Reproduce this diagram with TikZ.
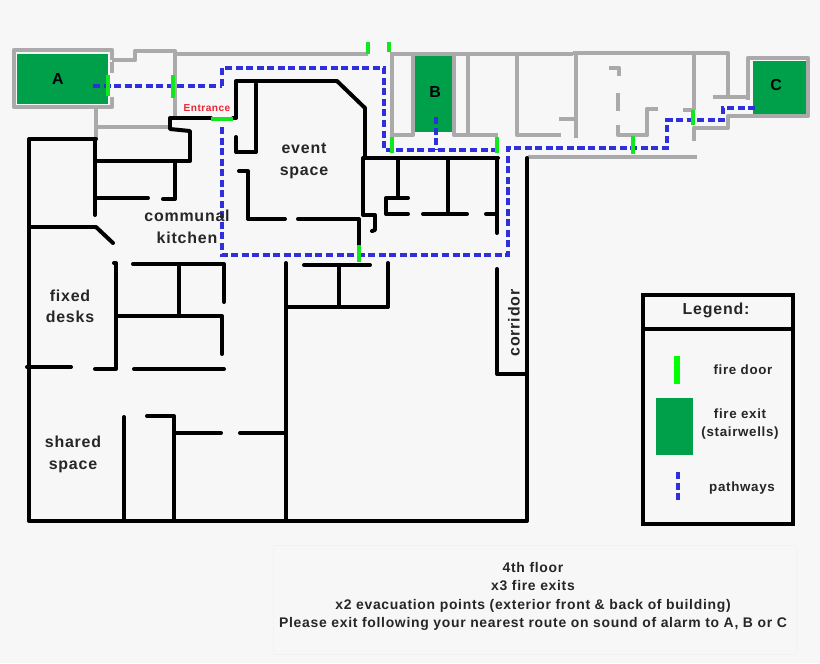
\documentclass[tikz,border=0pt]{standalone}
\usepackage{fontspec}
\setmainfont{Liberation Sans}[LetterSpace=5]
\usepackage{tikz}

\definecolor{paper}{HTML}{F7F7F7}
\definecolor{wallgrey}{HTML}{AAAAAA}
\definecolor{doorgreen}{HTML}{12E61E}
\definecolor{exitgreen}{HTML}{00A04B}
\definecolor{routeblue}{HTML}{2F2FDD}
\definecolor{signred}{HTML}{EE2233}

\tikzset{
	wall/.style={line width=3.4pt,black,line cap=round,line join=round},
	oldwall/.style={line width=3.6pt,wallgrey,line join=round},
	firedoor/.style={line width=3.8pt,doorgreen},
	pathway/.style={line width=3.2pt,routeblue,dash pattern=on 6pt off 3pt},
	stairwell/.style={fill=exitgreen},
	roomlabel/.style={font=\bfseries\fontsize{13.6}{18.4}\selectfont,align=center,text=black!85},
	legendlabel/.style={font=\bfseries\fontsize{11.4}{14.6}\selectfont,align=center,text=black!85},
	infolabel/.style={font=\bfseries\fontsize{11.9}{15.8}\selectfont,align=center,text=black!85}
}

\begin{document}
\begin{tikzpicture}[x=0.03cm,y=-0.03cm]
	\useasboundingbox[fill=paper] (0,0) rectangle (820,663);

	% stairwells
	\fill[stairwell] (17,54) rectangle (108,104);
	\fill[stairwell] (415,56) rectangle (452,132);
	\fill[stairwell] (753,61) rectangle (806,114);

	% grey walls, top left
	\draw[oldwall] (112,60) -- (112,50) -- (14,50) -- (14,107) -- (112,107) -- (112,97);
	\draw[oldwall] (112,62) -- (112,73);
	\draw[oldwall] (112,60) -- (135,60) -- (135,51) -- (175,51) -- (175,118);
	\draw[oldwall] (175,54) -- (368,54);
	\draw[oldwall] (96,108) -- (96,139);
	\draw[oldwall] (95,127) -- (168,127);

	% grey walls, top right
	\draw[oldwall] (390,54) -- (573,54);
	\draw[oldwall] (573,53) -- (728,53) -- (728,97);
	\draw[oldwall] (392,54) -- (392,137);
	\draw[oldwall] (392,135) -- (413,135) -- (413,54);
	\draw[oldwall] (454,54) -- (454,135) -- (498,135);
	\draw[oldwall] (468,54) -- (468,135);
	\draw[oldwall] (561,135) -- (517,135) -- (517,54);
	\draw[oldwall] (576,54) -- (576,138);
	\draw[oldwall] (559,119) -- (576,119);
	\draw[oldwall] (609,68) -- (619,68) -- (619,76);
	\draw[oldwall] (618,93) -- (618,111);
	\draw[oldwall] (618,125) -- (618,135) -- (647,135) -- (647,109) -- (658,109);
	\draw[oldwall] (694,54) -- (694,110);
	\draw[oldwall] (683,110) -- (694,110);
	\draw[oldwall] (694,141) -- (694,128) -- (728,128) -- (728,116) -- (808,116) -- (808,58) -- (748,58) -- (748,100);
	\draw[oldwall] (713,97) -- (748,97);
	\draw[oldwall] (528,157) -- (697,157);

	% black walls, outside
	\draw[wall] (96,139) -- (29,139) -- (29,521) -- (527,521) -- (527,158);
	\draw[wall] (497,269) -- (497,374) -- (527,374);

	% kitchen and entrance
	\draw[wall] (95,139) -- (95,215);
	\draw[wall] (95,161) -- (190,161) -- (190,131) -- (170,129) -- (170,118) -- (211,118);
	\draw[wall] (175,161) -- (175,199) -- (163,199);
	\draw[wall] (95,198) -- (148,198);
	\draw[wall] (29,227) -- (96,227) -- (113,243);

	% event space
	\draw[wall] (233,118) -- (236,118) -- (236,81) -- (337,81) -- (365,108) -- (365,158);
	\draw[wall] (256,84) -- (256,152) -- (236,152) -- (236,137);
	\draw[wall] (239,171) -- (248,171) -- (248,219) -- (285,219);
	\draw[wall] (298,219) -- (359,219) -- (359,245);

	% rooms right of event space
	\draw[wall] (365,158) -- (498,158);
	\draw[wall] (363,158) -- (363,215) -- (375,215) -- (375,230) -- (372,231);
	\draw[wall] (398,158) -- (398,197);
	\draw[wall] (408,198) -- (386,198) -- (386,214) -- (408,214);
	\draw[wall] (423,214) -- (467,214);
	\draw[wall] (448,158) -- (448,214);
	\draw[wall] (486,214) -- (497,214);
	\draw[wall] (497,158) -- (497,233);

	% fixed desks
	\draw[wall] (114,263) -- (116,263) -- (116,369) -- (95,369);
	\draw[wall] (27,367) -- (71,367);
	\draw[wall] (134,369) -- (224,369);
	\draw[wall] (133,264) -- (224,264) -- (224,302);
	\draw[wall] (179,264) -- (179,316);
	\draw[wall] (116,316) -- (222,316) -- (222,354);

	% shared space
	\draw[wall] (124,417) -- (124,521);
	\draw[wall] (147,416) -- (174,416) -- (174,521);
	\draw[wall] (174,433) -- (221,433);
	\draw[wall] (240,433) -- (286,433);
	\draw[wall] (286,263) -- (286,521);
	\draw[wall] (304,265) -- (370,265);
	\draw[wall] (339,265) -- (339,307);
	\draw[wall] (286,307) -- (388,307) -- (388,263);

	% pathways
	\draw[pathway] (93,86) -- (222,86);
	\draw[pathway] (222,127) -- (222,255) -- (508,255) -- (508,148) -- (667,148) -- (667,120) -- (723,120) -- (723,108) -- (755,108);
	\draw[pathway] (222,86) -- (222,68) -- (384,68) -- (384,150) -- (500,150);
	\draw[pathway] (436,117) -- (436,150);

	% fire doors
	\draw[firedoor] (108,75) -- (108,96);
	\draw[firedoor] (173,75) -- (173,98);
	\draw[firedoor] (211,119) -- (233,119);
	\draw[firedoor] (368,42) -- (368,54);
	\draw[firedoor] (389,42) -- (389,52);
	\draw[firedoor] (392,137) -- (392,153);
	\draw[firedoor] (497,137) -- (497,153);
	\draw[firedoor] (633,136) -- (633,154);
	\draw[firedoor] (693,110) -- (693,125);
	\draw[firedoor] (359,245) -- (359,262);

	% labels
	\node[roomlabel,text=black] (a) at (58,79) {A};
	\node[roomlabel,text=black] (b) at (435,92) {B};
	\node[roomlabel,text=black] (c) at (776,85) {C};
	\node[font=\bfseries\fontsize{8.6}{9}\selectfont,text=signred] (entrance) at (207,108) {Entrance};
	\node[roomlabel] (event) at (304,161) {event\\space};
	\node[roomlabel] (kitchen) at (187,227) {communal\\kitchen};
	\node[roomlabel] (desks) at (70,306.5) {fixed\\desks};
	\node[roomlabel] (shared) at (73,454.5) {shared\\space};
	\node[roomlabel,rotate=90] (corridor) at (514,323) {corridor};

	% legend
	\draw[wall,line cap=butt,line join=miter] (643,295) rectangle (793,524);
	\draw[wall,line cap=butt] (643,329) -- (793,329);
	\node[roomlabel] (legend) at (716,310) {Legend:};
	\draw[line width=4.4pt,green] (677,356) -- (677,384);
	\fill[stairwell] (656,398) rectangle (693,455);
	\draw[pathway] (678,472) -- (678,500);
	\node[legendlabel] (doorkey) at (743,370) {fire door};
	\node[legendlabel] (exitkey) at (740,424) {fire exit\\(stairwells)};
	\node[legendlabel] (pathkey) at (742,488) {pathways};

	% note at the bottom
	\draw[black!5,line width=0.4pt] (273,545) rectangle (796,654);
	\node[infolabel] (note) at (533,596.5) {4th floor\\x3 fire exits\\x2 evacuation points (exterior front \& back of building)\\Please exit following your nearest route on sound of alarm to A, B or C};
\end{tikzpicture}
\end{document}
